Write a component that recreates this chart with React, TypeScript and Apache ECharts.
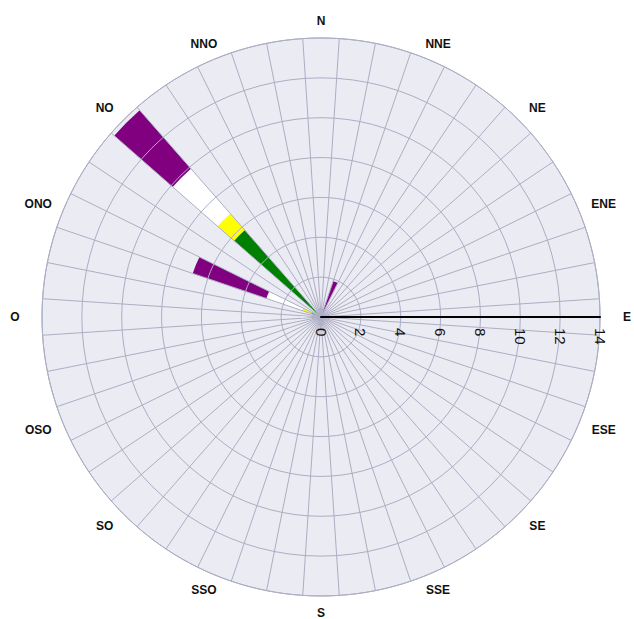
import React, { useEffect, useRef } from "react";
import * as echarts from "echarts";

// 16 compass labels (French: O = Ouest)
const directions = ["N", "NNE", "NE", "ENE", "E", "ESE", "SE", "SSE", "S", "SSO", "SO", "OSO", "O", "ONO", "NO", "NNO"];
// radial tick labels
const radiusTicks = [0, 2, 4, 6, 8, 10, 12, 14];
// 48 sectors of 7.5°, index 0 = N, clockwise
const sectors = Array.from({ length: 48 }, (_, i) => String(i * 7.5));

// stacked classes, from centre outwards
const greenValues = [
  0, 0, 0, 0, 0, 0, 0, 0, 0, 0, 0, 0,
  0, 0, 0, 0, 0, 0, 0, 0, 0, 0, 0, 0,
  0, 0, 0, 0, 0, 0, 0, 0, 0, 0, 0, 0,
  0, 0, 0, 0.5, 0, 0, 5.8, 0, 0, 0, 0, 0,
];
const yellowValues = [
  0, 0, 0, 0, 0, 0, 0, 0, 0, 0, 0, 0,
  0, 0, 0, 0, 0, 0, 0, 0, 0, 0, 0, 0,
  0, 0, 0, 0, 0, 0, 0, 0, 0, 0, 0, 0,
  0, 0, 0, 0.5, 0, 0, 1.1, 0, 0, 0, 0, 0,
];
const whiteValues = [
  0, 0, 0, 0, 0, 0, 0, 0, 0, 0, 0, 0,
  0, 0, 0, 0, 0, 0, 0, 0, 0, 0, 0, 0,
  0, 0, 0, 0, 0, 0, 0, 0, 0, 0, 0, 0,
  1.0, 0, 0, 1.9, 0, 0, 3.0, 0, 0, 0, 0, 0,
];
const purpleValues = [
  0, 0, 0, 1.9, 0, 0, 0, 0, 0, 0, 0, 0,
  0, 0, 0, 0, 0, 0, 0, 0, 0, 0, 0, 0,
  0, 0, 0, 0, 0, 0, 0, 0, 0, 0, 0, 0,
  0, 0, 0, 3.9, 0, 0, 3.9, 0, 0, 0, 0, 0,
];

const CX = 321;
const CY = 317;
const RADIUS = 279;
const LABEL_RX = 306;
const LABEL_RY = 296;
const GRID = "#adadc4";
const BG = "#ebebf3";
const FONT = "'Liberation Sans', Arial, sans-serif";

export default function App() {
  const ref = useRef<HTMLDivElement>(null);

  useEffect(() => {
    document.body.style.margin = "0";
    const chart = echarts.init(ref.current!, null, { renderer: "svg" });
    const step = 360 / sectors.length;

    const labelGraphics = directions.map((d, i) => {
      const a = ((i * 360) / directions.length) * (Math.PI / 180);
      return {
        type: "text",
        x: CX + LABEL_RX * Math.sin(a),
        y: CY - LABEL_RY * Math.cos(a),
        z: 10,
        style: {
          text: d,
          fill: "#111",
          font: `bold 12px ${FONT}`,
          align: "center",
          verticalAlign: "middle",
        },
      };
    });

    const bar = (name: string, data: number[], color: string) => ({
      name,
      type: "bar",
      coordinateSystem: "polar",
      polarIndex: 0,
      stack: "wind",
      data,
      barCategoryGap: "0%",
      itemStyle: { color },
      z: 2,
    });

    chart.setOption({
      animation: false,
      polar: [
        { center: [CX, CY], radius: RADIUS },
        { center: [CX, CY], radius: RADIUS },
      ],
      angleAxis: [
        {
          polarIndex: 0,
          type: "category",
          data: sectors,
          startAngle: 90 + step / 2,
          clockwise: true,
          boundaryGap: true,
          z: 3,
          axisLine: { show: true, lineStyle: { color: GRID, width: 1 } },
          axisTick: { show: false, interval: 0 },
          axisLabel: { show: false, interval: 0 },
          splitLine: { show: true, interval: 0, lineStyle: { color: GRID, width: 1 } },
          splitArea: { show: false },
        },
        {
          polarIndex: 1,
          type: "value",
          min: 0,
          max: 360,
          interval: 90,
          startAngle: 0,
          z: 0,
          axisLine: { show: false },
          axisTick: { show: false },
          axisLabel: { show: false },
          splitLine: { show: false },
          splitArea: { show: true, areaStyle: { color: [BG] } },
        },
      ],
      radiusAxis: [
        {
          polarIndex: 0,
          type: "value",
          min: radiusTicks[0],
          max: radiusTicks[radiusTicks.length - 1],
          interval: radiusTicks[1] - radiusTicks[0],
          z: 3,
          axisLine: { show: false },
          axisTick: { show: false },
          axisLabel: { show: false },
          splitLine: { show: true, lineStyle: { color: GRID, width: 1 } },
        },
        {
          polarIndex: 1,
          type: "value",
          min: radiusTicks[0],
          max: radiusTicks[radiusTicks.length - 1],
          interval: radiusTicks[1] - radiusTicks[0],
          z: 4,
          axisLine: { show: true, lineStyle: { color: "#000", width: 2 } },
          axisTick: { show: false },
          axisLabel: {
            show: true,
            rotate: -90,
            margin: -11,
            align: "left",
            verticalAlign: "middle",
            color: "#111",
            fontSize: 15,
            fontFamily: FONT,
          },
          splitLine: { show: false },
        },
      ],
      graphic: labelGraphics,
      series: [
        bar("green", greenValues, "#008000"),
        bar("yellow", yellowValues, "#ffff00"),
        bar("white", whiteValues, "#ffffff"),
        bar("purple", purpleValues, "#800080"),
      ],
    });

    return () => chart.dispose();
  }, []);

  return <div ref={ref} style={{ width: 634, height: 619 }} />;
}
